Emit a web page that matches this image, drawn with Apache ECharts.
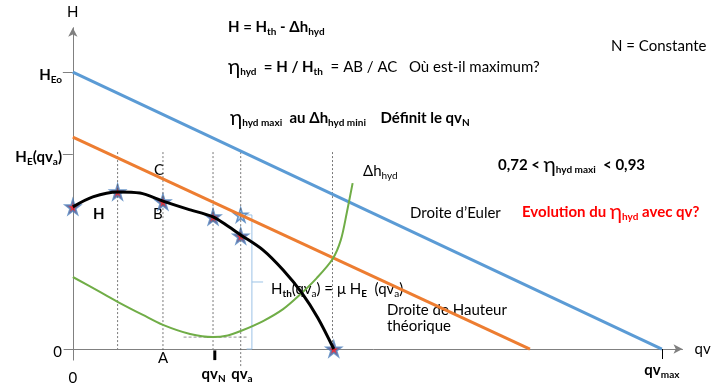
<!DOCTYPE html>
<html><head><meta charset="utf-8">
<script src="https://cdn.jsdelivr.net/npm/echarts@6/dist/echarts.min.js"></script>
<style>html,body{margin:0;padding:0;background:#fff}#c{width:715px;height:385px}</style>
</head><body><div id="c"></div>
<script>
// ---- data (qv in units of qv_max/10, H in units of H_Eo/10) ----
const eulerLine = [[0, 10], [10, 0]];            // Droite d'Euler
const theoLine = [[0, 7.65], [7.76, 0]];         // Droite de Hauteur théorique
const hCurve = [[0, 5.13], [0.34, 5.49], [0.76, 5.67], [1.14, 5.63], [1.53, 5.34], [1.95, 5.05],
                [2.38, 4.77], [2.63, 4.44], [2.85, 4.12], [3.23, 3.57], [3.57, 2.85], [3.89, 2.02],
                [4.16, 1.12], [4.43, 0]];
const hStars = [[0, 5.13], [0.76, 5.67], [1.53, 5.31], [2.38, 4.77], [2.85, 4.08], [4.43, 0]];
const thStar = [[2.85, 4.84]];
const dhCurve = [[0, 2.60], [0.46, 2.06], [0.80, 1.66], [1.19, 1.23], [1.53, 0.87], [1.99, 0.54],
                 [2.38, 0.43], [2.63, 0.49], [2.85, 0.65], [3.23, 1.01], [3.57, 1.44], [3.85, 1.95],
                 [4.14, 2.56], [4.41, 3.25], [4.55, 3.94], [4.65, 4.91], [4.75, 5.99]];
const guideX = [0.76, 1.53, 2.38, 2.85, 4.41];
const guideTop = [7.11, 7.11, 7.11, 7.11, 7.11];
const guideBottom = [0, -0.14, 0, -0.69, 0];
const dhMinLine = [[1.88, 0.43], [2.95, 0.43]];
const brace = [[2.95, 4.84], [3.04, 4.84], [3.04, 0], [2.95, 0]];
const braceTip = [[3.04, 2.42], [3.23, 2.42]];
const qvNTick = [[2.41, -0.05], [2.41, -0.4]];
const yTickVals = [7.04, 10];
const yLabelVals = [0, 7.04, 10];
const xTickVals = [10];
const xLabelVals = [0, 1.53, 2.39, 2.87, 10];

const F = 'Lato, "Noto Sans", sans-serif';
function mk(fs, bold, padTop, color) {
  const c = color || '#000';
  return {fontFamily: F, fontSize: fs, fontWeight: bold ? 'bold' : 'normal', verticalAlign: 'top',
          padding: [padTop, 0, 0, 0], color: c, fill: c, lineHeight: fs};
}
const rich = {
  n: mk(15, 0, 3), b: mk(15, 1, 3), s: mk(10, 0, 10), sb: mk(10, 1, 10),
  e: mk(21, 0, 0), eb: mk(21, 1, 0),
  r: mk(15, 1, 3, '#ff0000'), rs: mk(10, 1, 10, '#ff0000'), re: mk(21, 0, 0, '#ff0000')
};
function T(x, yc, text) {
  return {type: 'text', x: x, y: yc - 10.5, silent: true,
          style: {text: text, rich: rich, align: 'left', verticalAlign: 'top'}};
}

const chart = echarts.init(document.getElementById('c'), null, {renderer: 'canvas'});

function line(data, color, width, type, extra) {
  return Object.assign({type: 'line', data: data, symbol: 'none', silent: true, clip: false,
    animation: false, lineStyle: {color: color, width: width, type: type || 'solid'}}, extra || {});
}
const starPath = 'path://M50,0 L61,35 L98,35 L68,57 L79,91 L50,70 L21,91 L32,57 L2,35 L39,35 Z';

const series = [];
guideX.forEach((x, i) => series.push(line([[x, guideTop[i]], [x, guideBottom[i]]], '#555', 0.8, [2, 2])));
series.push(line(dhMinLine, '#777', 0.8, [3, 2]));
series.push(line(brace, '#9dc3e6', 1));
series.push(line(braceTip, '#9dc3e6', 1));
series.push(line(eulerLine, '#5b9bd5', 3));
series.push(line(theoLine, '#ed7d31', 3));
series.push(line(dhCurve, '#70ad47', 2, 'solid', {smooth: 0.3}));
series.push(line(hCurve, '#000', 3, 'solid', {smooth: 0.3}));
series.push(line(qvNTick, '#000', 3));
series.push({type: 'scatter', data: hStars, symbol: starPath, symbolSize: 14, clip: false, silent: true,
  animation: false, itemStyle: {color: '#e8000b', borderColor: '#4a7ebb', borderWidth: 2}});
series.push({type: 'scatter', data: thStar, symbol: starPath, symbolSize: 14, clip: false, silent: true,
  animation: false, itemStyle: {color: '#9dc3e6', borderColor: '#4a7ebb', borderWidth: 1.5}});

chart.setOption({
  animation: false,
  grid: {left: 64, right: 32.5, top: 27.7, bottom: 24.9, containLabel: false, outerBoundsMode: 'none'},
  xAxis: {
    type: 'value', min: -0.15, max: 10.35,
    name: 'qv', nameLocation: 'end', nameGap: 12,
    nameTextStyle: {fontFamily: F, fontSize: 15, color: '#000', verticalAlign: 'middle'},
    axisLine: {onZero: true, symbol: ['none', 'arrow'], symbolSize: [7, 9], lineStyle: {color: '#808080', width: 1}},
    splitLine: {show: false},
    axisTick: {show: true, customValues: xTickVals, length: 10, lineStyle: {color: '#000'}},
    axisLabel: {
      customValues: xLabelVals, margin: -9, rich: {
        z: mk(15, 0, 20), a: mk(15, 0, 0), q: mk(15, 1, 16), qs: mk(10, 1, 23), m: mk(15, 1, 12), ms: mk(10, 1, 19)
      },
      formatter: function (v) {
        if (v === 0) return '{z|0}';
        if (v === 1.53) return '{a|A}';
        if (v === 2.39) return '{q|qv}{qs|N}';
        if (v === 2.87) return '{q|qv}{qs|a}';
        return '{m|qv}{ms|max}';
      }
    }
  },
  yAxis: {
    type: 'value', min: -0.4, max: 11.6,
    name: 'H', nameLocation: 'end', nameGap: 8,
    nameTextStyle: {fontFamily: F, fontSize: 15, color: '#000'},
    axisLine: {onZero: true, symbol: ['none', 'arrow'], symbolSize: [7, 9], lineStyle: {color: '#808080', width: 1}},
    splitLine: {show: false},
    axisTick: {show: true, customValues: yTickVals, length: 10, lineStyle: {color: '#808080'}},
    axisLabel: {
      customValues: yLabelVals, margin: 2, rich: rich,
      formatter: function (v) {
        if (v === 0) return '{n|0}';
        if (v === 10) return '{b|H}{sb|Eo}';
        return '{b|H}{sb|E}{b|(qv}{sb|a}{b|)}';
      }
    }
  },
  series: series,
  graphic: [
    T(228, 27, '{b|H = H}{sb|th}{b| - Δh}{sb|hyd}'),
    T(228, 67, '{e|η}{sb|hyd}{b|  = H / H}{sb|th}{n|  = AB / AC   Où est-il maximum?}'),
    T(230, 118, '{e|η}{sb|hyd maxi}{b|  au Δh}{sb|hyd mini}{b|    Définit le qv}{sb|N}'),
    T(611, 46, '{n|N = Constante}'),
    T(363, 171, '{n|Δh}{s|hyd}'),
    T(498, 165, '{b|0,72 < }{e|η}{sb|hyd maxi}{b|  < 0,93}'),
    T(410, 213, '{n|Droite d’Euler}'),
    T(522, 212, '{r|Evolution du }{re|η}{rs|hyd}{r| avec qv?}'),
    T(93, 214, '{b|H}'),
    T(154, 170, '{n|C}'),
    T(153, 214, '{n|B}'),
    T(271, 289, '{n|H}{sb|th}{n|(qv}{s|a}{n|) = μ H}{sb|E}{n|  (qv}{s|a}{n|)}'),
    T(387, 310, '{n|Droite de Hauteur}'),
    T(387, 326, '{n|théorique}')
  ]
});
</script>
</body></html>
